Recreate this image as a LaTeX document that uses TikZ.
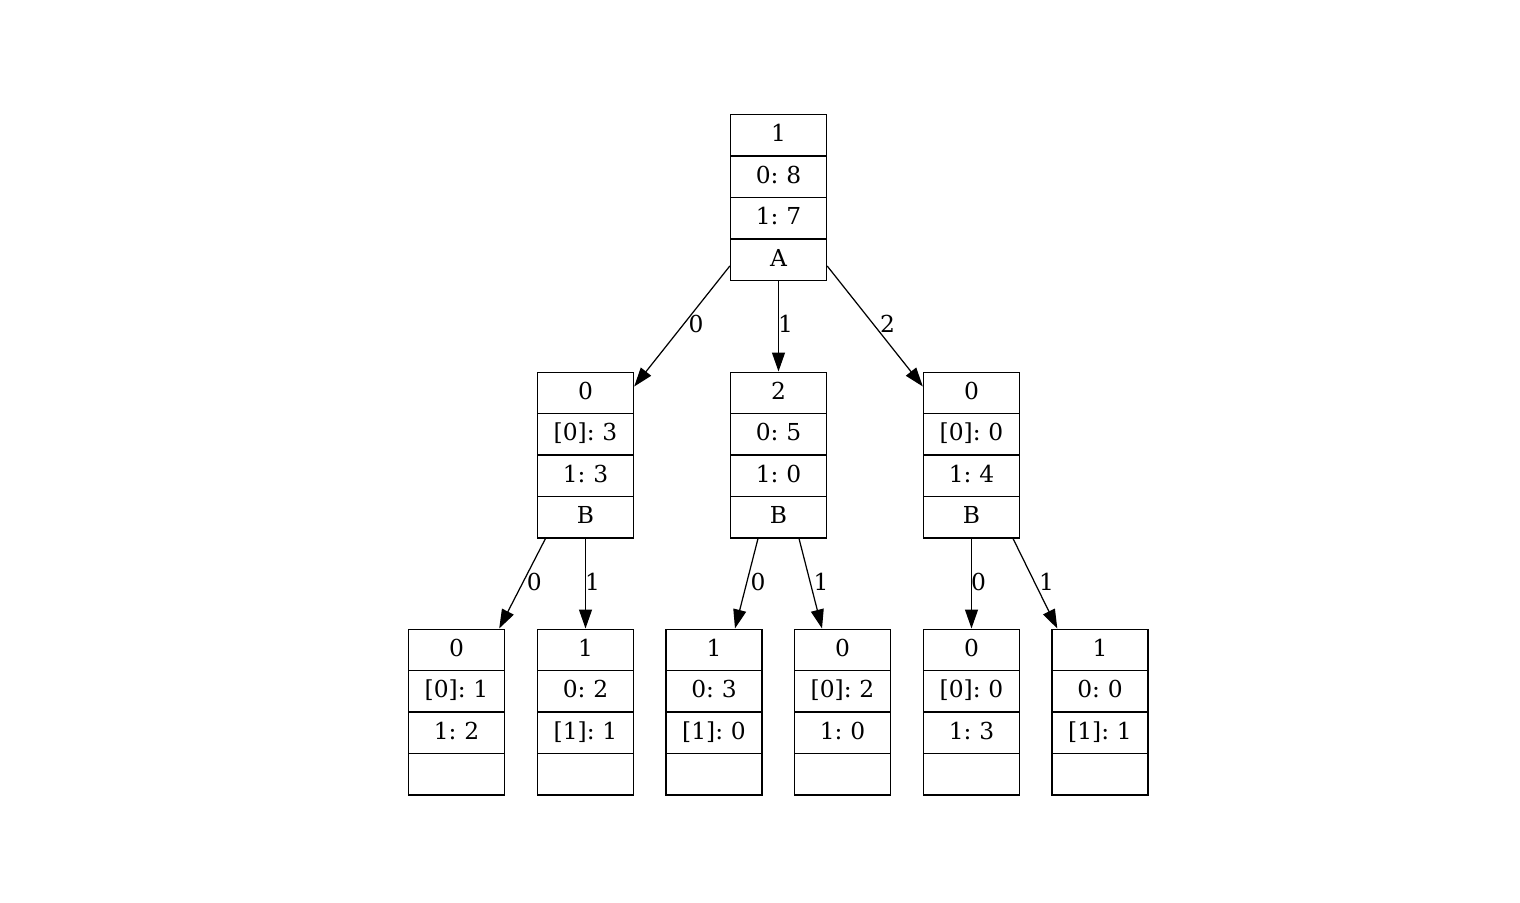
\documentclass[tikz,border=0pt]{standalone}
\usepackage{fontspec}
\setmainfont{DejaVu Serif}
\usetikzlibrary{shapes.multipart,arrows.meta}

% fixed-height strut that gives every record field the same height
\newcommand{\fld}{\rule[-0.27cm]{0pt}{0.80cm}}

\tikzset{
  record/.style={draw, line width=0.8pt, rectangle split, rectangle split parts=4,
    rectangle split ignore empty parts=false,
    text width=1.92cm, align=center, inner xsep=0pt, inner ysep=0pt,
    font=\fontsize{13.3}{16}\selectfont\frenchspacing},
  edge/.style={line width=0.7pt, -{Triangle[length=0.38cm,width=0.26cm]}},
  elabel/.style={midway, inner sep=0pt, yshift=0.04cm, font=\fontsize{13.3}{16}\selectfont}
}

\begin{document}
\begin{tikzpicture}[x=0.02cm, y=-0.02cm]
  \useasboundingbox (0,0) rectangle (1520,902);

  % root
  \node[record] (root) at (778.5,197.5)
    {\fld 1\nodepart{two}\fld 0: 8\nodepart{three}\fld 1: 7\nodepart{four}\fld A};

  % second level
  \node[record] (L) at (585.5,455)
    {\fld 0\nodepart{two}\fld{[0]}: 3\nodepart{three}\fld 1: 3\nodepart{four}\fld B};
  \node[record] (M) at (778.5,455)
    {\fld 2\nodepart{two}\fld 0: 5\nodepart{three}\fld 1: 0\nodepart{four}\fld B};
  \node[record] (R) at (971.5,455)
    {\fld 0\nodepart{two}\fld{[0]}: 0\nodepart{three}\fld 1: 4\nodepart{four}\fld B};

  % leaves
  \node[record] (LL) at (456.5,712)
    {\fld 0\nodepart{two}\fld{[0]}: 1\nodepart{three}\fld 1: 2\nodepart{four}\fld};
  \node[record] (LR) at (585.5,712)
    {\fld 1\nodepart{two}\fld 0: 2\nodepart{three}\fld{[1]}: 1\nodepart{four}\fld};
  \node[record] (MA) at (714,712)
    {\fld 1\nodepart{two}\fld 0: 3\nodepart{three}\fld{[1]}: 0\nodepart{four}\fld};
  \node[record] (MB) at (842.5,712)
    {\fld 0\nodepart{two}\fld{[0]}: 2\nodepart{three}\fld 1: 0\nodepart{four}\fld};
  \node[record] (RA) at (971.5,712)
    {\fld 0\nodepart{two}\fld{[0]}: 0\nodepart{three}\fld 1: 3\nodepart{four}\fld};
  \node[record] (RB) at (1100,712)
    {\fld 1\nodepart{two}\fld 0: 0\nodepart{three}\fld{[1]}: 1\nodepart{four}\fld};

  % edges from the root
  \draw[edge] ([yshift=0.3cm]root.south west) -- ([yshift=-0.3cm]L.north east)
    node[elabel, xshift=0.28cm] {0};
  \draw[edge] (root.south) -- (M.north) node[elabel, xshift=0.14cm] {1};
  \draw[edge] ([yshift=0.3cm]root.south east) -- ([yshift=-0.3cm]R.north west)
    node[elabel, xshift=0.25cm] {2};

  % edges to the leaves
  \draw[edge] ([xshift=-0.8cm]L.south) -- ([xshift=-0.12cm]LL.north east)
    node[elabel, xshift=0.24cm] {0};
  \draw[edge] (L.south) -- (LR.north) node[elabel, xshift=0.14cm] {1};
  \draw[edge] ([xshift=-0.41cm]M.south) -- ([xshift=0.42cm]MA.north)
    node[elabel, xshift=0.23cm] {0};
  \draw[edge] ([xshift=0.41cm]M.south) -- ([xshift=-0.41cm]MB.north)
    node[elabel, xshift=0.21cm] {1};
  \draw[edge] (R.south) -- (RA.north) node[elabel, xshift=0.14cm] {0};
  \draw[edge] ([xshift=0.83cm]R.south) -- ([xshift=0.12cm]RB.north west)
    node[elabel, xshift=0.23cm] {1};
\end{tikzpicture}
\end{document}
